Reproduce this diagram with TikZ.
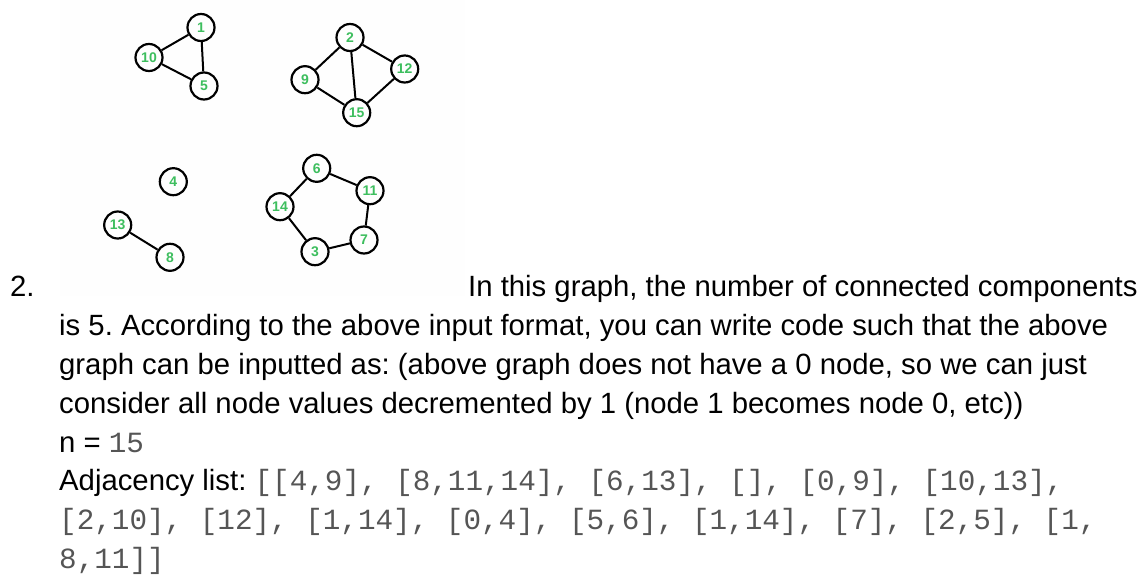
\documentclass[tikz,border=0pt]{standalone}
\usepackage{fontspec}
\setmainfont{Liberation Sans}
\setmonofont{Liberation Mono}
\usepackage{xcolor}
\definecolor{label-green}{HTML}{3DBE5E}
\definecolor{code-gray}{HTML}{555555}
\definecolor{img-bg}{HTML}{FEFEFE}
\frenchspacing

\begin{document}
\begin{tikzpicture}[x=1pt, y=-1pt,
        vertex/.style={draw, circle, line width=2.2pt, minimum size=27pt,
            inner sep=0pt, text=label-green,
            font=\fontsize{14}{14}\selectfont\bfseries},
        edge/.style={line width=2pt},
        txt/.style={anchor=base west, inner sep=0pt,
            font=\fontsize{29.3}{38.7}\selectfont}]
      \useasboundingbox (0,0) rectangle (1147,575);
      \fill[img-bg] (60,0) rectangle (465,296);
      % triangle 1-10-5
      \node[vertex] (v1)  at (201,27.5) {1};
      \node[vertex] (v10) at (149,57.5) {10};
      \node[vertex] (v5)  at (204,86)   {5};
      \draw[edge] (v1) -- (v10);
      \draw[edge] (v1) -- (v5);
      \draw[edge] (v10) -- (v5);
      % 2, 9, 12, 15
      \node[vertex] (v2)  at (350,37.5)  {2};
      \node[vertex] (v9)  at (305,79.7)  {9};
      \node[vertex] (v12) at (404.7,69)  {12};
      \node[vertex] (v15) at (356.7,112.7) {15};
      \draw[edge] (v2) -- (v9);
      \draw[edge] (v2) -- (v15);
      \draw[edge] (v2) -- (v12);
      \draw[edge] (v9) -- (v15);
      \draw[edge] (v12) -- (v15);
      % 4 alone, 13-8
      \node[vertex] (v4)  at (173.3,181.7) {4};
      \node[vertex] (v13) at (117.7,225)   {13};
      \node[vertex] (v8)  at (170,257.3)   {8};
      \draw[edge] (v13) -- (v8);
      % cycle 6-11-7-3-14
      \node[vertex] (v6)  at (316.7,168.3) {6};
      \node[vertex] (v11) at (370,190.7)   {11};
      \node[vertex] (v14) at (280,206.7)   {14};
      \node[vertex] (v7)  at (364,240)     {7};
      \node[vertex] (v3)  at (315,251.7)   {3};
      \draw[edge] (v6) -- (v11);
      \draw[edge] (v11) -- (v7);
      \draw[edge] (v7) -- (v3);
      \draw[edge] (v3) -- (v14);
      \draw[edge] (v14) -- (v6);
      % text
      \node[txt] (item)  at (10,296)  {2.};
      \node[txt] (line1) at (468,296) {In this graph, the number of connected components};
      \node[txt] (line2) at (59,335)  {is 5. According to the above input format, you can write code such that the above};
      \node[txt] (line3) at (59,374)  {graph can be inputted as: (above graph does not have a 0 node, so we can just};
      \node[txt] (line4) at (59,413)  {consider all node values decremented by 1 (node 1 becomes node 0, etc))};
      \node[txt] (line5) at (59,452)  {n = {\ttfamily\color{code-gray}15}};
      \node[txt] (line6) at (59,490)  {Adjacency list: {\ttfamily\color{code-gray}[[4,9], [8,11,14], [6,13], [], [0,9], [10,13],}};
      \node[txt] (line7) at (59,529)  {{\ttfamily\color{code-gray}[2,10], [12], [1,14], [0,4], [5,6], [1,14], [7], [2,5], [1,}};
      \node[txt] (line8) at (59,568)  {{\ttfamily\color{code-gray}8,11]]}};
    \end{tikzpicture}
\end{document}
